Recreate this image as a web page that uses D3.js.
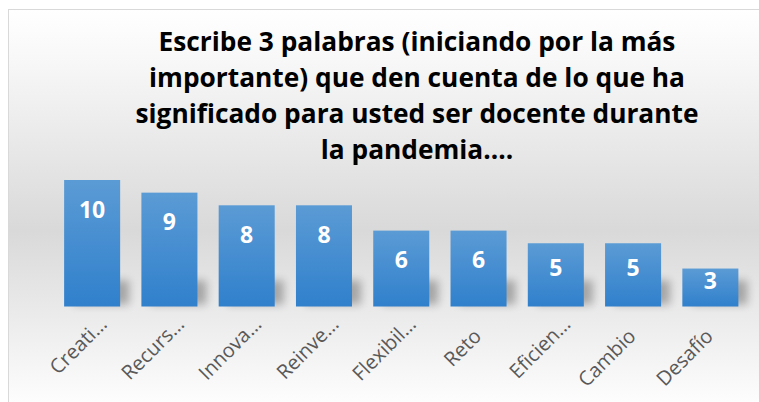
<!DOCTYPE html>
<html>
<head>
<meta charset="utf-8">
<script src="https://cdn.jsdelivr.net/npm/d3@7"></script>
<style>
  body { margin: 0; background: #fff; }
  svg { display: block; }
</style>
</head>
<body>
<svg id="chart" width="759" height="402"></svg>
<script>
// chart data
var categories = ["Creati…", "Recurs…", "Innova…", "Reinve…", "Flexibil…", "Reto", "Eficien…", "Cambio", "Desafío"];
var values = [10, 9, 8, 8, 6, 6, 5, 5, 3];
var titleLines = [
  "Escribe 3 palabras (iniciando por la más",
  "importante) que den cuenta de lo que ha",
  "significado para usted ser docente durante",
  "la pandemia...."
];

var W = 759, H = 402;
var base = 306.5;

var svg = d3.select("#chart");
var defs = svg.append("defs");

// background gradient
var bg = defs.append("linearGradient").attr("id", "bg")
  .attr("x1", 0).attr("y1", 0).attr("x2", 0).attr("y2", 1);
bg.append("stop").attr("offset", "0").attr("stop-color", "#ffffff");
bg.append("stop").attr("offset", "0.12").attr("stop-color", "#f8f8f8");
bg.append("stop").attr("offset", "0.55").attr("stop-color", "#d9d9d9");
bg.append("stop").attr("offset", "1").attr("stop-color", "#ffffff");

// bar gradient
var bar = defs.append("linearGradient").attr("id", "bar")
  .attr("x1", 0).attr("y1", 0).attr("x2", 0).attr("y2", 1);
bar.append("stop").attr("offset", "0").attr("stop-color", "#5b9bd5");
bar.append("stop").attr("offset", "1").attr("stop-color", "#3080cc");

defs.append("filter").attr("id", "blur")
  .attr("x", "-50%").attr("y", "-50%").attr("width", "200%").attr("height", "200%")
  .append("feGaussianBlur").attr("stdDeviation", 4);

// chart frame
svg.append("rect")
  .attr("x", 8.5).attr("y", 9.5)
  .attr("width", W).attr("height", H)
  .attr("fill", "url(#bg)")
  .attr("stroke", "#d9d9d9");

// scales
var x = d3.scaleBand()
  .domain(categories)
  .range([53.5, 749])
  .paddingInner(0.275)
  .paddingOuter(0.1375);

var y = d3.scaleLinear()
  .domain([0, 10])
  .range([base, 180]);

var data = categories.map(function(c, i) { return {cat: c, val: values[i]}; });

// shadows
svg.append("g").selectAll("rect")
  .data(data)
  .enter().append("rect")
  .attr("x", function(d) { return x(d.cat) + 9; })
  .attr("y", base - 26)
  .attr("width", x.bandwidth())
  .attr("height", 24)
  .attr("fill", "#000")
  .attr("opacity", 0.28)
  .attr("filter", "url(#blur)");

// bars
svg.append("g").selectAll("rect")
  .data(data)
  .enter().append("rect")
  .attr("x", function(d) { return x(d.cat); })
  .attr("y", function(d) { return y(d.val); })
  .attr("width", x.bandwidth())
  .attr("height", function(d) { return base - y(d.val); })
  .attr("fill", "url(#bar)");

// value labels
svg.append("g").selectAll("text")
  .data(data)
  .enter().append("text")
  .attr("x", function(d) { return x(d.cat) + x.bandwidth() / 2; })
  .attr("y", function(d) {
    var h = base - y(d.val);
    return y(d.val) + Math.min(29, h / 2 - 7) + 8.5;
  })
  .attr("text-anchor", "middle")
  .attr("fill", "#ffffff")
  .attr("font-family", "'Open Sans', sans-serif")
  .attr("font-weight", "bold")
  .attr("font-size", 23)
  .text(function(d) { return d.val; });

// category axis
var xAxis = svg.append("g")
  .attr("transform", "translate(0," + base + ")")
  .call(d3.axisBottom(x).tickSize(0).tickPadding(0))
  .attr("font-family", "'Open Sans', sans-serif")
  .attr("font-size", 20);
xAxis.select(".domain").remove();
xAxis.selectAll("text")
  .attr("transform", "translate(4,31) rotate(-45)")
  .attr("x", 0).attr("y", 0).attr("dy", 0)
  .attr("dx", function(d) { return d.slice(-1) === "…" ? 17 : 0; })
  .attr("text-anchor", "end")
  .attr("fill", "#595959");

// title
svg.append("text")
  .attr("text-anchor", "middle")
  .attr("font-family", "'Open Sans', sans-serif")
  .attr("font-weight", "bold")
  .attr("font-size", 26.3)
  .attr("fill", "#000")
  .selectAll("tspan")
  .data(titleLines)
  .enter().append("tspan")
  .attr("x", 417)
  .attr("y", function(d, i) { return 51 + i * 36; })
  .text(function(d) { return d; });
</script>
</body>
</html>
